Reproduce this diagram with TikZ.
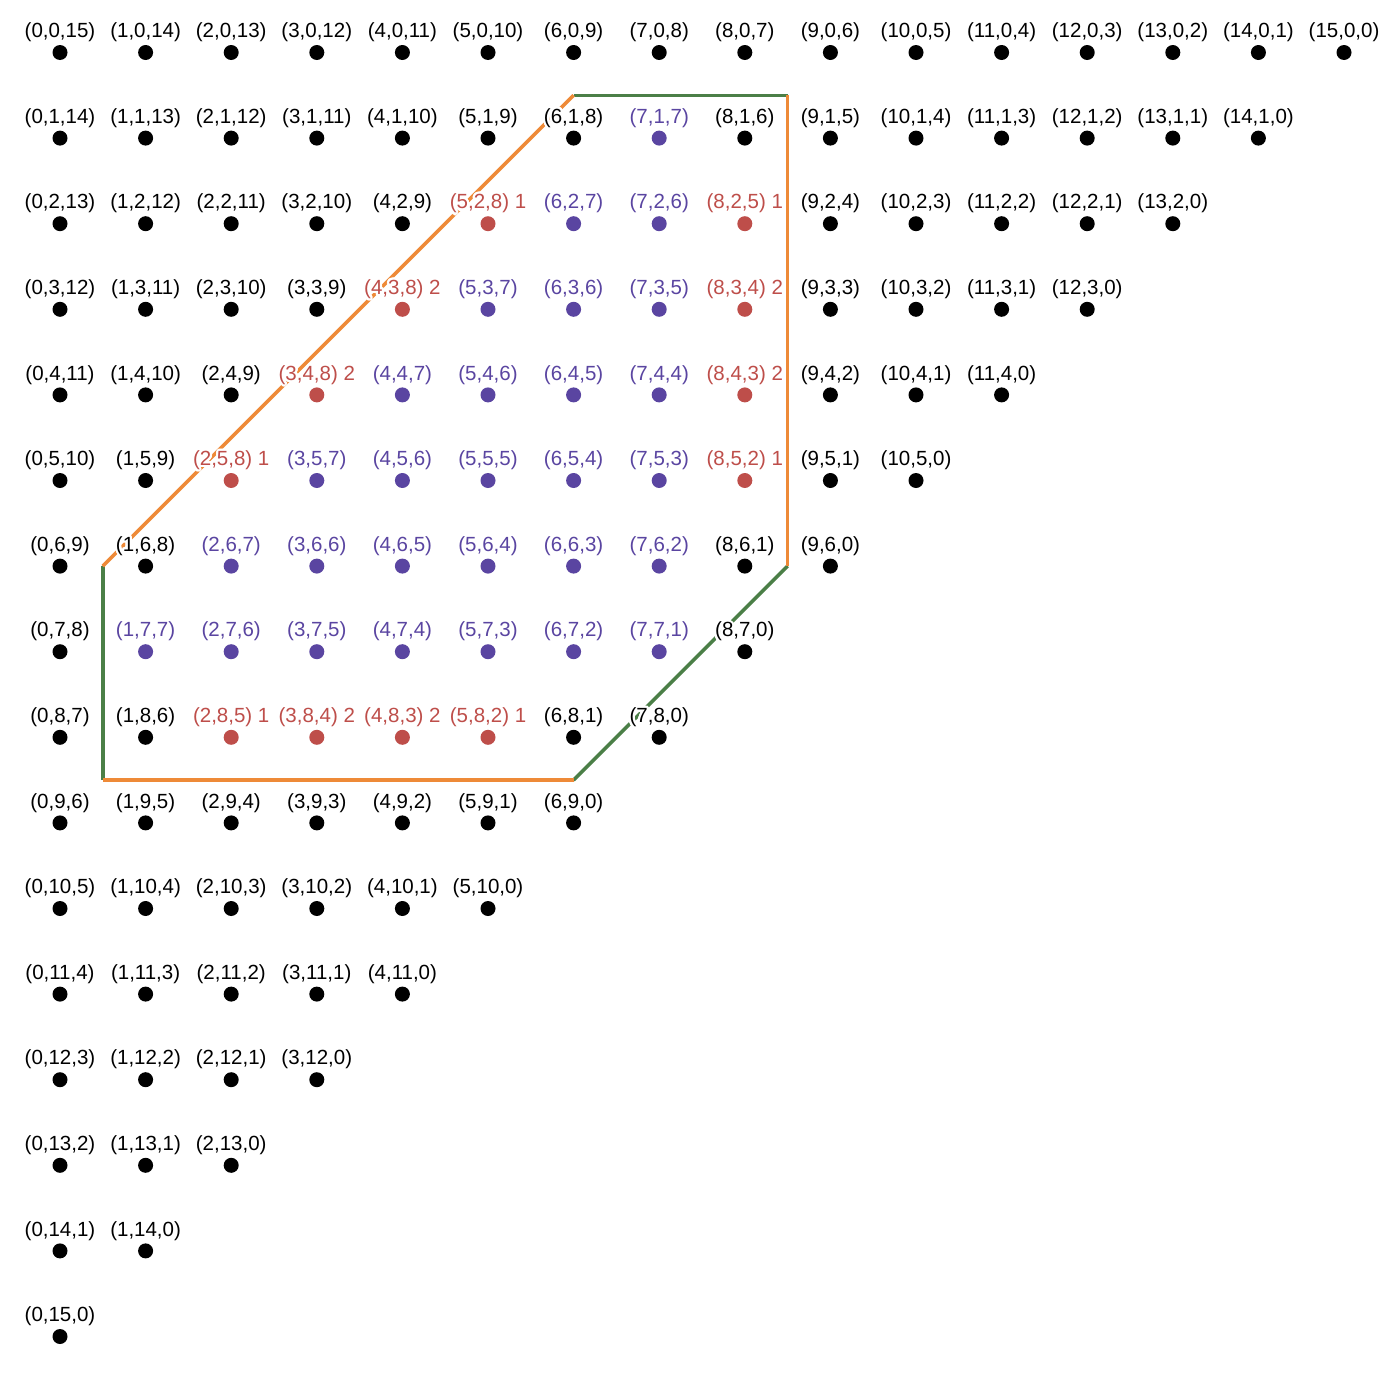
\documentclass[tikz,border=0pt]{standalone}
\usepackage{fontspec}
\setmainfont{Liberation Sans}
\usepackage{contour}
\contourlength{2.2pt}
\contournumber{24}
\definecolor{purpleL}{HTML}{5A45A1}
\definecolor{redL}{HTML}{BE4E4A}
\definecolor{orangeL}{HTML}{EE8A38}
\definecolor{greenL}{HTML}{4B7F47}
\newcommand\setredpt[3]{\expandafter\def\csname red@#1@#2\endcsname{#3}}
\setredpt{5}{2}{1}\setredpt{8}{2}{1}
\setredpt{4}{3}{2}\setredpt{8}{3}{2}
\setredpt{3}{4}{2}\setredpt{8}{4}{2}
\setredpt{2}{5}{1}\setredpt{8}{5}{1}
\setredpt{2}{8}{1}\setredpt{3}{8}{2}\setredpt{4}{8}{2}\setredpt{5}{8}{1}
\begin{document}
\begin{tikzpicture}[x=1pt,y=-1pt,
  font=\fontsize{20.5}{23}\selectfont,
  dot/.style={circle, fill=#1, draw=none, inner sep=0pt, minimum size=15pt},
  lbl/.style={anchor=base, inner sep=0pt, text=#1},
  edgeO/.style={draw=orangeL, line width=3.5pt},
  edgeG/.style={draw=greenL, line width=3.5pt}]
\path[use as bounding box, fill=white] (0,0) rectangle (1395,1373);
% polygon corners (grid coordinates scaled)
\coordinate (A) at (60+85.6*6,   52.5+85.6*0.5);
\coordinate (B) at (60+85.6*8.5, 52.5+85.6*0.5);
\coordinate (C) at (60+85.6*8.5, 52.5+85.6*6);
\coordinate (D) at (60+85.6*6,   52.5+85.6*8.5);
\coordinate (E) at (60+85.6*0.5, 52.5+85.6*8.5);
\coordinate (F) at (60+85.6*0.5, 52.5+85.6*6);
\draw[edgeG] (A) -- (B);
\draw[edgeG] (F) -- (E);
\draw[edgeG] (D) -- (C);
\draw[edgeO] (F) -- (A);
\draw[edgeO] (E) -- (D);
\draw[edgeO] (C) -- (B);
\foreach \j in {0,...,15}{
  \pgfmathtruncatemacro\imax{15-\j}
  \foreach \i in {0,...,\imax}{
    \pgfmathtruncatemacro\k{15-\i-\j}
    \pgfmathtruncatemacro\ispurple{and(and(\i<8,\j>0),and(\j<8,\i+\j>7))}
    \pgfmathsetmacro\px{60+85.6*\i}
    \pgfmathsetmacro\py{52.5+85.6*\j}
    \ifcsname red@\i @\j\endcsname
      \def\col{redL}\edef\suf{ \csname red@\i @\j\endcsname}
    \else
      \ifnum\ispurple=1 \def\col{purpleL}\else\def\col{black}\fi
      \def\suf{}
    \fi
    \node[dot=\col] (p-\i-\j) at (\px,\py) {};
    \node[lbl=\col] (l-\i-\j) at (\px,\py-14.8) {\contour{white}{(\i,\j,\k)\suf}};
  }
}
\end{tikzpicture}
\end{document}
